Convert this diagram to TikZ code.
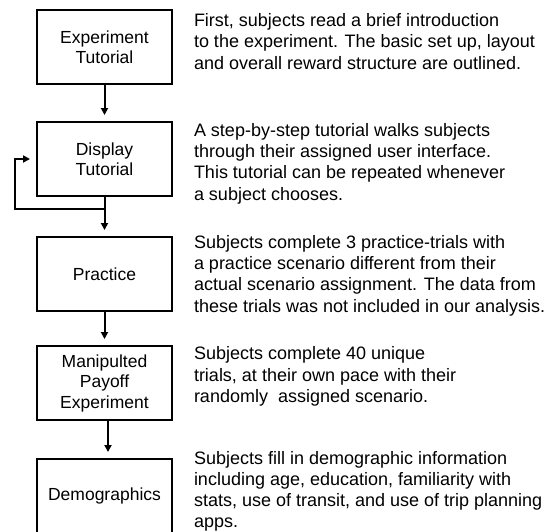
\documentclass[tikz,border=0pt]{standalone}
\usepackage{fontspec}
\setmainfont{Liberation Sans}
\usetikzlibrary{positioning}
\usetikzlibrary{arrows.meta}

\begin{document}
\begin{tikzpicture}[->,>={Triangle[length=7pt,width=7pt]},shorten >=6pt,line width=2pt,
node distance=36pt and 20pt,
step box/.style={draw,minimum width=135pt,minimum height=74pt,align=center,
  font=\fontsize{17.5}{20.5}\selectfont},
note/.style={align=left,inner sep=0pt,font=\fontsize{18}{21.3}\selectfont}]

\useasboundingbox (0,0) rectangle (547pt,-531pt);

\node[step box] (exp) at (104.5pt,-47pt) {Experiment\\Tutorial};
\node[step box] (disp) [below=of exp] {Display\\Tutorial};
\node[step box] (prac) [below=39pt of disp] {Practice};
\node[step box] (pay) [below=33pt of prac] {Manipulted\\Payoff\\Experiment};
\node[step box] (demo) [below=37pt of pay] {Demographics};

\node[note] (expnote) [right=of exp,yshift=5.5pt] {First, subjects read a brief introduction\\to the experiment. The basic set up, layout\\and overall reward structure are outlined.};
\node[note] (dispnote) [right=of disp,yshift=-4.5pt] {A step-by-step tutorial walks subjects\\through their assigned user interface.\\This tutorial can be repeated whenever\\a subject chooses.};
\node[note] (pracnote) [right=of prac,yshift=-1.5pt] {Subjects complete 3 practice-trials with\\a practice scenario different from their\\actual scenario assignment. The data from\\these trials was not included in our analysis.};
\node[note] (paynote) [right=of pay,yshift=6.5pt] {Subjects complete 40 unique\\trials, at their own pace with their\\randomly\ \ assigned scenario.};
\node[note, font=\fontsize{18}{21}\selectfont] (demonote) [right=of demo,yshift=5pt] {Subjects fill in demographic information\\including age, education, familiarity with\\stats, use of transit, and use of trip planning\\apps.};

\coordinate[below=12pt of disp] (split);

\draw (exp) -- (disp);
\draw (disp) -- (prac);
\draw (split) -| ([xshift=-21pt]disp.west) -- (disp.west);
\draw (prac) -- (pay);
\draw ([xshift=3.5pt]pay.south) -- ([xshift=3.5pt]demo.north);
\end{tikzpicture}
\end{document}
